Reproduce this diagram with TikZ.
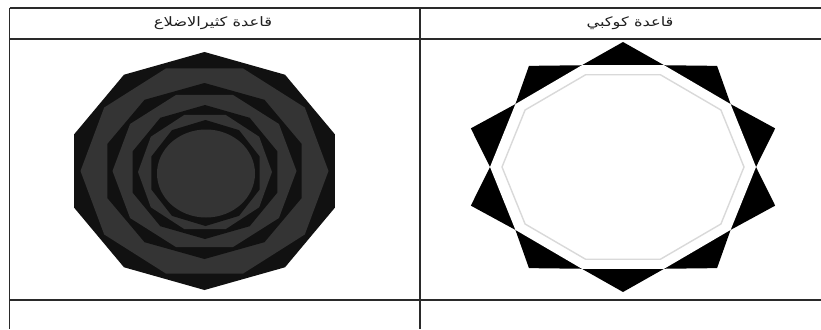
\documentclass[tikz,border=0pt]{standalone}
\usepackage{fontspec}
\usepackage{graphicx}
\newfontfamily\arabicfont[Script=Arabic]{DejaVu Sans}
\TeXXeTstate=1
\definecolor{tablerule}{HTML}{2A2A2A}
\definecolor{ringblack}{HTML}{111111}
\definecolor{ringgray}{HTML}{343434}
\definecolor{innerline}{HTML}{D9D9D9}
% filled polygon on an ellipse: colour, cx, cy, rx, ry, start angle, corners
\newcommand\polyfill[7]{%
  \fill[#1] plot[samples at={1,...,#7}]
    ({#2+#4*cos(#6+360*(\x-1)/#7)},{#3-#5*sin(#6+360*(\x-1)/#7)}) -- cycle;}
% header text, set right to left and widened a little
\newcommand\hdrtext[1]{\scalebox{1.25}[1]{\beginR #1\endR}}
\begin{document}
\begin{tikzpicture}[x=1pt,y=-1pt,
  rule/.style={draw=tablerule,line width=1.3pt},
  hdr/.style={font=\arabicfont\fontsize{13}{15}\selectfont,inner sep=0pt,text=black!88}]
\useasboundingbox (0,0) rectangle (821,329);
\fill[white] (0,0) rectangle (821,329);

% table grid
\draw[rule] (9.5,8) -- (821,8);
\draw[rule] (9.5,39) -- (821,39);
\draw[rule] (9.5,300) -- (821,300);
\draw[rule] (9.5,8) -- (9.5,329);
\draw[rule] (420,8) -- (420,329);

% column headers
\node[hdr] (hdrL) at (213,23) {\hdrtext{قاعدة كثيرالاضلاع}};
\node[hdr] (hdrR) at (630,23) {\hdrtext{قاعدة كوكبي}};

% polygon rule: nested decagons, alternating black and dark gray
\polyfill{ringblack}{204.5}{171}{137}{119}{90}{10}
\polyfill{ringgray}{204.5}{171}{124}{108}{72}{10}
\polyfill{ringblack}{204.5}{171}{102}{88}{90}{10}
\polyfill{ringgray}{204.5}{171}{92}{80}{72}{10}
\polyfill{ringblack}{205}{172}{76}{67}{90}{10}
\polyfill{ringgray}{205}{172}{67}{60}{72}{10}
\polyfill{ringblack}{205.5}{173}{57}{53}{90}{10}
\fill[ringgray] (206,173.5) ellipse[x radius=49,y radius=44];

% star rule: ten-pointed star with a white decagon in the middle
\fill[black] plot[samples at={0,...,19}]
  ({623+ifthenelse(mod(\x,2)==0,160,133)*cos(90-18*\x)},
   {167-ifthenelse(mod(\x,2)==0,125,107)*sin(90-18*\x)}) -- cycle;
\polyfill{white}{623}{167}{133}{107}{72}{10}
\draw[innerline,line width=1.4pt] plot[samples at={0,...,9}]
  ({623+121*cos(72+36*\x)},{167-97*sin(72+36*\x)}) -- cycle;
\end{tikzpicture}
\end{document}
